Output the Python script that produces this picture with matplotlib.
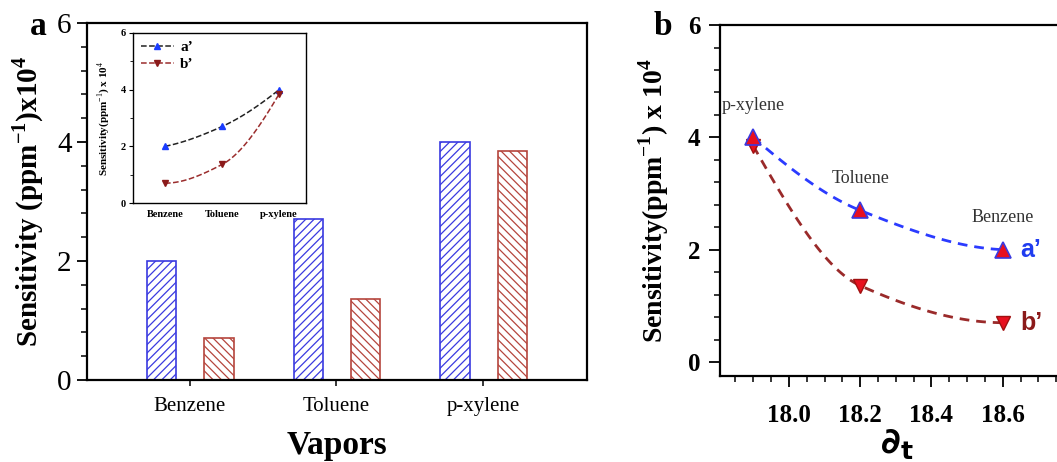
import numpy as np
import matplotlib
matplotlib.use('Agg')
from matplotlib import pyplot as plt
from matplotlib.ticker import MultipleLocator

plt.rcParams['font.family'] = ['Liberation Serif', 'DejaVu Serif']
plt.rcParams['mathtext.fontset'] = 'custom'
plt.rcParams['mathtext.rm'] = 'Liberation Serif'
plt.rcParams['mathtext.bf'] = 'Liberation Serif:bold'
plt.rcParams['hatch.linewidth'] = 0.9

vapors = ['Benzene', 'Toluene', 'p-xylene']
sens_a = [2.0, 2.7, 4.0]      # a'
sens_b = [0.7, 1.36, 3.85]    # b'
delta_t = [18.6, 18.2, 17.9]

BLUE = '#3a3ae0'
BROWN = '#b5453d'
DARKRED = '#8b1a1a'


def pchip(x, y, xs):
    # monotone cubic curve through the points, for the dashed fits
    x = np.asarray(x, float)
    y = np.asarray(y, float)
    h = np.diff(x)
    d = np.diff(y) / h
    n = len(x)
    m = np.zeros(n)
    for k in range(1, n - 1):
        if d[k - 1] * d[k] > 0:
            w1 = 2 * h[k] + h[k - 1]
            w2 = h[k] + 2 * h[k - 1]
            m[k] = (w1 + w2) / (w1 / d[k - 1] + w2 / d[k])
    def end(h0, h1, d0, d1):
        v = ((2 * h0 + h1) * d0 - h0 * d1) / (h0 + h1)
        if np.sign(v) != np.sign(d0):
            return 0.0
        if np.sign(d0) != np.sign(d1) and abs(v) > abs(3 * d0):
            return 3 * d0
        return v
    m[0] = end(h[0], h[1], d[0], d[1])
    m[-1] = end(h[-1], h[-2], d[-1], d[-2])
    out = np.empty_like(xs)
    for i, xv in enumerate(xs):
        k = min(max(np.searchsorted(x, xv) - 1, 0), n - 2)
        t = (xv - x[k]) / h[k]
        h00 = 2 * t**3 - 3 * t**2 + 1
        h10 = t**3 - 2 * t**2 + t
        h01 = -2 * t**3 + 3 * t**2
        h11 = t**3 - t**2
        out[i] = h00 * y[k] + h10 * h[k] * m[k] + h01 * y[k + 1] + h11 * h[k] * m[k + 1]
    return out


fig = plt.figure(figsize=(10.57, 4.62), dpi=100)

# ---- panel a: bars
ax = fig.add_axes([0.0823, 0.1775, 0.473, 0.7727])
pos = np.arange(len(vapors))
ax.bar(pos - 0.19, sens_a, width=0.2, facecolor='white', edgecolor=BLUE,
       hatch='////', linewidth=1.2)
ax.bar(pos + 0.2, sens_b, width=0.2, facecolor='white', edgecolor=BROWN,
       hatch='\\\\\\\\', linewidth=1.2)
ax.set_xlim(-0.7, 2.71)
ax.set_ylim(0, 6)
ax.set_xticks(pos)
ax.set_xticklabels(vapors, fontsize=15)
ax.set_yticks([0, 2, 4, 6])
ax.yaxis.set_minor_locator(MultipleLocator(0.4))
ax.tick_params(axis='y', which='major', labelsize=21, length=7, width=1.3, pad=4)
ax.tick_params(axis='y', which='minor', length=4, width=1.1)
ax.tick_params(axis='x', which='major', length=4, width=1.1, pad=8)
for s in ax.spines.values():
    s.set_linewidth(1.6)
ax.set_ylabel('Sensitivity (ppm$^{\\mathbf{-1}}$)x10$^{\\mathbf{4}}$',
              fontsize=21, fontweight='bold', labelpad=8)
ax.set_xlabel('Vapors', fontsize=24, fontweight='bold', labelpad=10)
fig.text(0.028, 0.925, 'a', fontsize=24, fontweight='bold')

# ---- inset
ins = fig.add_axes([0.1258, 0.5606, 0.1637, 0.368])
xs = np.linspace(0, 2, 100)
ins.plot(xs, pchip(pos, sens_a, xs), '--', color='#222222', lw=1.1)
ins.plot(xs, pchip(pos, sens_b, xs), '--', color='#9b2d2d', lw=1.1)
ins.plot(pos, sens_a, '^', color='#1a3cff', ms=5, ls='none')
ins.plot(pos, sens_b, 'v', color=DARKRED, ms=5, ls='none')
# legend handles with dashes like the original
ha, = ins.plot([], [], '--^', color='#222222', mfc='#1a3cff', mec='#1a3cff', ms=5, lw=1.1)
hb, = ins.plot([], [], '--v', color='#9b2d2d', mfc=DARKRED, mec=DARKRED, ms=5, lw=1.1)
ins.legend([ha, hb], ['a’', 'b’'], loc='upper left', frameon=False,
           prop={'weight': 'bold', 'size': 11}, handlelength=2.2,
           borderaxespad=0.1, labelspacing=0.2, handletextpad=0.4)
ins.set_xlim(-0.56, 2.47)
ins.set_ylim(0, 6)
ins.set_xticks(pos)
ins.set_xticklabels(vapors, fontsize=7.5, fontweight='bold')
ins.set_yticks([0, 2, 4, 6])
ins.set_yticklabels(['0', '2', '4', '6'], fontsize=7.5, fontweight='bold')
ins.yaxis.set_minor_locator(MultipleLocator(1))
ins.tick_params(which='major', length=3, width=0.8, pad=2)
ins.tick_params(which='minor', length=2, width=0.6)
ins.tick_params(axis='x', length=0, pad=5)
for s in ins.spines.values():
    s.set_linewidth(1.0)
ins.set_ylabel('Sensitivity(ppm$^{-1}$) x 10$^4$', fontsize=8, fontweight='bold',
               labelpad=6)

# ---- panel b
bx = fig.add_axes([0.6812, 0.1861, 0.335, 0.7597])
order = np.argsort(delta_t)
dt = np.asarray(delta_t)[order]
xs2 = np.linspace(dt[0], dt[-1], 120)
bx.plot(xs2, pchip(dt, np.asarray(sens_a)[order], xs2), '--', color='#2b3bff',
        lw=2.0, dashes=(3.5, 2.5))
bx.plot(xs2, pchip(dt, np.asarray(sens_b)[order], xs2), '--', color='#9a2a2a',
        lw=2.0, dashes=(3.5, 2.5))
bx.plot(delta_t, sens_b, 'v', ms=10, mfc='#e8101f', mec='#a01010', ls='none')
bx.plot(delta_t, sens_a, '^', ms=11, mfc='#e8101f', mec='#3a3ae0', mew=1.2, ls='none')
bx.set_xlim(17.807, 18.8)
bx.set_ylim(-0.25, 6)
bx.set_xticks([18.0, 18.2, 18.4, 18.6])
bx.set_xticklabels(['18.0', '18.2', '18.4', '18.6'], fontsize=18, fontweight='bold')
bx.xaxis.set_minor_locator(MultipleLocator(0.05))
bx.set_yticks([0, 2, 4, 6])
bx.set_yticklabels(['0', '2', '4', '6'], fontsize=18, fontweight='bold')
bx.yaxis.set_minor_locator(MultipleLocator(0.4))
bx.tick_params(which='major', length=8, width=1.3, pad=6)
bx.tick_params(which='minor', length=4, width=1.1)
bx.tick_params(axis='x', which='major', pad=12)
for s in bx.spines.values():
    s.set_linewidth(1.6)
bx.set_ylabel('Sensitivity(ppm$^{\\mathbf{-1}}$) x 10$^{\\mathbf{4}}$',
              fontsize=20, fontweight='bold', labelpad=12)
bx.set_xlabel('$\\mathbf{\\partial_t}$', fontsize=26, labelpad=0,
              math_fontfamily='dejavusans')
for name, x, y in zip(vapors, delta_t, sens_a):
    bx.annotate(name, (x, y), xytext=(0, 23), textcoords='offset points',
                ha='center', va='center', fontsize=13, color='#333333')
bx.text(18.65, 2.0, 'a’', color='#1f3cf0', fontsize=18, fontweight='bold',
        family='Liberation Sans', va='center')
bx.text(18.65, 0.7, 'b’', color=DARKRED, fontsize=18, fontweight='bold',
        family='Liberation Sans', va='center')
fig.text(0.618, 0.925, 'b', fontsize=24, fontweight='bold')

plt.savefig('out.png', dpi=100)
